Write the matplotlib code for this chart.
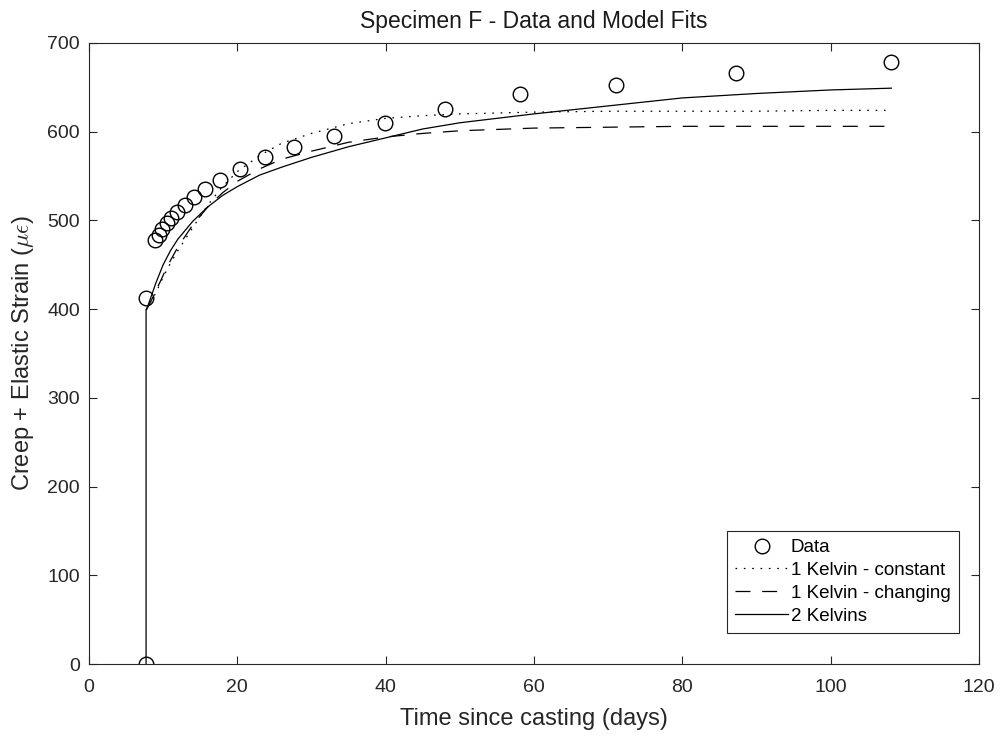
import matplotlib
matplotlib.use('Agg')
import matplotlib.pyplot as plt

plt.rcParams['font.family'] = ['Liberation Sans', 'DejaVu Sans']
plt.rcParams['mathtext.fontset'] = 'cm'
plt.rcParams['lines.scale_dashes'] = False

# measured creep + elastic strain (microstrain)
data_t = [7.7, 7.7, 8.9, 9.4, 9.9, 10.5, 11.1, 11.9, 12.9, 14.2, 15.7, 17.7,
          20.4, 23.8, 27.7, 33.0, 39.9, 48.0, 58.1, 71.0, 87.2, 108.2]
data_y = [0, 413, 478, 484, 490, 497, 503, 509, 517, 526, 535, 545,
          558, 571, 583, 595, 610, 626, 642, 653, 666, 679]

# model curves
fit_t = [7.7, 7.7, 8, 9, 10, 11, 12, 14, 16, 18, 20, 23, 26, 30, 35, 40,
         45, 50, 60, 70, 80, 90, 100, 108.2]
kelvin1_const = [0, 399, 403, 418, 436, 452, 466, 492, 517, 538, 555, 573, 587,
                 598, 609, 615, 618, 620, 622, 623, 623, 623, 624, 624]
kelvin1_chang = [0, 399, 403, 420, 438, 455, 470, 495, 515, 531, 544, 558, 569,
                 578, 588, 594, 598, 601, 604, 605, 606, 606, 606, 606]
kelvin2 = [0, 399, 405, 429, 450, 466, 479, 499, 515, 528, 538, 551, 560,
           571, 583, 593, 603, 610, 620, 629, 638, 643, 647, 649]

fig = plt.figure(figsize=(10.03, 7.40), dpi=100)
ax = fig.add_axes([0.0887, 0.1027, 0.8873, 0.8393])

ax.plot(data_t, data_y, 'o', mfc='none', mec='k', ms=10.5, mew=1.0, label='Data')
# the jump from zero is drawn once (by the solid curve) so it stays thin
ax.plot(fit_t[1:], kelvin1_const[1:], color='k', lw=0.9, dashes=(1.2, 4.8),
        label='1 Kelvin - constant')
ax.plot(fit_t[1:], kelvin1_chang[1:], color='k', lw=0.9, dashes=(10.8, 8.4),
        label='1 Kelvin - changing')
ax.plot(fit_t, kelvin2, color='k', lw=0.9, label='2 Kelvins')

ax.set_xlim(0, 120)
ax.set_ylim(0, 700)
ax.set_xticks(range(0, 121, 20))
ax.set_yticks(range(0, 701, 100))
ax.tick_params(direction='in', length=6, width=0.8, top=True, right=True,
               labelsize=14, colors='#262626')
ax.tick_params(axis='x', pad=10.5)
ax.tick_params(axis='y', pad=6.5)
for s in ax.spines.values():
    s.set_color('#262626')
    s.set_linewidth(0.8)

ax.set_title('Specimen F - Data and Model Fits', fontsize=16.5, color='#1a1a1a', pad=11)
ax.set_xlabel('Time since casting (days)', fontsize=17, color='#262626', labelpad=9)
ax.set_ylabel(r'Creep + Elastic Strain ($\mu\epsilon$)', fontsize=17, color='#262626',
              labelpad=8)

leg = ax.legend(loc='lower right', bbox_to_anchor=(0.9775, 0.05), fontsize=13.5,
                fancybox=False, framealpha=1, edgecolor='#262626', handlelength=2.8,
                borderpad=0.45, borderaxespad=0, labelspacing=0.3, handletextpad=0.15)
leg.get_frame().set_linewidth(0.8)

fig.savefig('out.png', dpi=100)
